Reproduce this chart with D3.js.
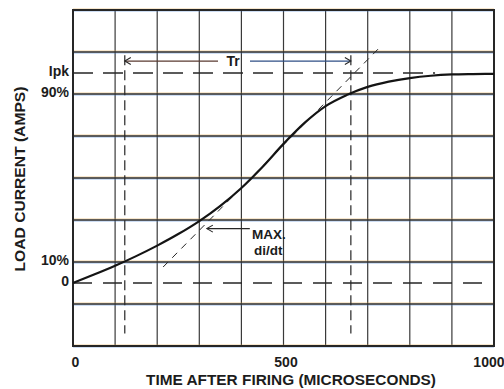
<!DOCTYPE html>
<html>
<head>
<meta charset="utf-8">
<script src="https://cdn.jsdelivr.net/npm/d3@7"></script>
<style>
  html, body { margin: 0; padding: 0; background: #ffffff; }
  svg { display: block; }
  text { font-family: "Liberation Sans", Arial, Helvetica, sans-serif; fill: #1c1c1c; }
</style>
</head>
<body>
<svg id="chart" width="504" height="389"></svg>
<script>
// Load current rise after SCR firing (percent of peak vs. microseconds)
const timeUs  = [0, 50, 100, 150, 200, 250, 300, 350, 400, 450, 500, 550, 600, 650, 700, 750, 800, 850, 900, 950, 1000];
const loadPct = [0, 4.0, 8.2, 12.8, 17.8, 23.3, 29.5, 36.75, 45.25, 55.25, 66.25, 76.25, 84.25, 89.5, 93.4, 95.9, 97.6, 98.7, 99.3, 99.5, 99.6];

// Axis ticks
const xTickValues = [0, 500, 1000];
const yLevelValues = [100, 90, 10, 0];
const yLevelLabels = ["Ipk", "90%", "10%", "0"];

// Reference markers
const riseStartUs = 123;       // 10% point
const riseEndUs = 660;         // 90% point
const peakPct = 100;
const peakDashEndUs = 860;
const tangentUs = [214, 734];  // max di/dt line ends
const tangentPct = [7.6, 113.3];
const trArrowPct = 105.7;
const markerTopPct = 108.5;
const markerBottomPct = -24;
const maxArrowPct = 25.9;
const maxArrowUs = [318, 420];

const svg = d3.select("#chart");
const x = d3.scaleLinear().domain([0, 1000]).range([73, 494]);
const y = d3.scaleLinear().domain([-30, 130]).range([346, 10]);

const ink = "#262626";

// Grid: verticals every 100 us, horizontals every 20 %
const vGrid = d3.range(0, 1001, 100);
const hGrid = d3.range(-30, 131, 20);

const grid = svg.append("g");
grid.selectAll("line.v").data(vGrid).join("line")
  .attr("x1", d => x(d)).attr("x2", d => x(d))
  .attr("y1", y(130)).attr("y2", y(-30))
  .attr("stroke", "#3a3a3a").attr("stroke-width", 1.2);

// printed horizontal rules with slight colour fringing
grid.selectAll("line.hf1").data(hGrid).join("line")
  .attr("x1", x(0)).attr("x2", x(1000))
  .attr("y1", d => y(d) - 1).attr("y2", d => y(d) - 1)
  .attr("stroke", "#e0a23c").attr("stroke-opacity", 0.5).attr("stroke-width", 1);
grid.selectAll("line.hf2").data(hGrid).join("line")
  .attr("x1", x(0)).attr("x2", x(1000))
  .attr("y1", d => y(d) + 1).attr("y2", d => y(d) + 1)
  .attr("stroke", "#3a78d0").attr("stroke-opacity", 0.5).attr("stroke-width", 1);
grid.selectAll("line.h").data(hGrid).join("line")
  .attr("x1", x(0)).attr("x2", x(1000))
  .attr("y1", d => y(d)).attr("y2", d => y(d))
  .attr("stroke", "#2e2e2e").attr("stroke-width", 1.3);

// Frame
svg.append("rect")
  .attr("x", x(0)).attr("y", y(130))
  .attr("width", x(1000) - x(0)).attr("height", y(-30) - y(130))
  .attr("fill", "none").attr("stroke", ink).attr("stroke-width", 2);

// Peak and zero dashed levels
svg.append("line")
  .attr("x1", x(0)).attr("x2", x(peakDashEndUs))
  .attr("y1", y(peakPct)).attr("y2", y(peakPct))
  .attr("stroke", ink).attr("stroke-width", 1.4).attr("stroke-dasharray", "20,10");
svg.append("line")
  .attr("x1", x(0)).attr("x2", x(1000))
  .attr("y1", y(0)).attr("y2", y(0))
  .attr("stroke", ink).attr("stroke-width", 1.4).attr("stroke-dasharray", "19,11");

// 10% / 90% vertical markers
svg.selectAll("line.mark").data([riseStartUs, riseEndUs]).join("line")
  .attr("x1", d => x(d)).attr("x2", d => x(d))
  .attr("y1", y(markerTopPct)).attr("y2", y(markerBottomPct))
  .attr("stroke", ink).attr("stroke-width", 1.2).attr("stroke-dasharray", "10,5");

// Max di/dt tangent
svg.append("line")
  .attr("x1", x(tangentUs[0])).attr("y1", y(tangentPct[0]))
  .attr("x2", x(tangentUs[1])).attr("y2", y(tangentPct[1]))
  .attr("stroke", ink).attr("stroke-width", 1).attr("stroke-dasharray", "7,6");

// Load current curve
const line = d3.line().x((d, i) => x(timeUs[i])).y(d => y(d)).curve(d3.curveMonotoneX);
svg.append("path")
  .datum(loadPct)
  .attr("d", line)
  .attr("fill", "none").attr("stroke", "#141414").attr("stroke-width", 2.2);

// Arrowheads
function arrowHead(px, py, dir) {
  // dir: +1 points right, -1 points left
  svg.append("path")
    .attr("d", `M${px - dir * 6},${py - 3.5} L${px},${py} L${px - dir * 6},${py + 3.5}`)
    .attr("fill", "none").attr("stroke", ink).attr("stroke-width", 1.1);
}

// Tr arrow with gap for the label
const trY = y(trArrowPct);
svg.append("line").attr("x1", x(riseStartUs)).attr("x2", 218).attr("y1", trY).attr("y2", trY)
  .attr("stroke", "#5a3a30").attr("stroke-width", 1.2);
svg.append("line").attr("x1", 250).attr("x2", x(riseEndUs)).attr("y1", trY).attr("y2", trY)
  .attr("stroke", "#2f4f86").attr("stroke-width", 1.2);
arrowHead(x(riseStartUs), trY, -1);
arrowHead(x(riseEndUs), trY, 1);
svg.append("text").attr("x", 233).attr("y", trY + 5)
  .attr("text-anchor", "middle").attr("font-size", 14).attr("font-weight", "bold").text("Tr");

// MAX di/dt pointer
const mY = y(maxArrowPct);
svg.append("line").attr("x1", x(maxArrowUs[0])).attr("x2", x(maxArrowUs[1]))
  .attr("y1", mY).attr("y2", mY).attr("stroke", ink).attr("stroke-width", 1.2);
arrowHead(x(maxArrowUs[0]), mY, -1);
svg.append("text").attr("x", 252).attr("y", 239)
  .attr("font-size", 13.5).attr("font-weight", "bold").text("MAX.");
svg.append("text").attr("x", 254).attr("y", 255)
  .attr("font-size", 13.5).attr("font-weight", "bold").text("di/dt");

// X axis labels
const xAxis = d3.axisBottom(x).tickValues(xTickValues).tickSize(0).tickPadding(0).tickFormat(d3.format("d"));
const gx = svg.append("g").attr("transform", "translate(2,357)").call(xAxis);
gx.select(".domain").remove();
gx.selectAll("text").attr("font-size", 14).attr("font-weight", "bold")
  .attr("font-family", "Liberation Sans, Arial, sans-serif").attr("fill", "#1c1c1c");
// keep the last label inside the page edge
gx.selectAll(".tick").filter(d => d === 1000).select("text")
  .attr("text-anchor", "end").attr("dx", 8);

// Y level labels
const yAxis = d3.axisLeft(y).tickValues(yLevelValues).tickSize(0).tickPadding(2)
  .tickFormat((d, i) => yLevelLabels[i]);
const gy = svg.append("g").attr("transform", "translate(71,-2)").call(yAxis);
gy.select(".domain").remove();
gy.selectAll("text").attr("font-size", 14).attr("font-weight", "bold")
  .attr("font-family", "Liberation Sans, Arial, sans-serif").attr("fill", "#1c1c1c");

// Axis titles
svg.append("text")
  .attr("x", 291).attr("y", 385)
  .attr("text-anchor", "middle").attr("font-size", 14.5).attr("font-weight", "bold")
  .attr("textLength", 290).attr("lengthAdjust", "spacingAndGlyphs")
  .text("TIME AFTER FIRING (MICROSECONDS)");
svg.append("text")
  .attr("transform", "translate(25,179) rotate(-90)")
  .attr("text-anchor", "middle").attr("font-size", 15).attr("font-weight", "bold")
  .attr("textLength", 185).attr("lengthAdjust", "spacingAndGlyphs")
  .text("LOAD CURRENT (AMPS)");
</script>
</body>
</html>
